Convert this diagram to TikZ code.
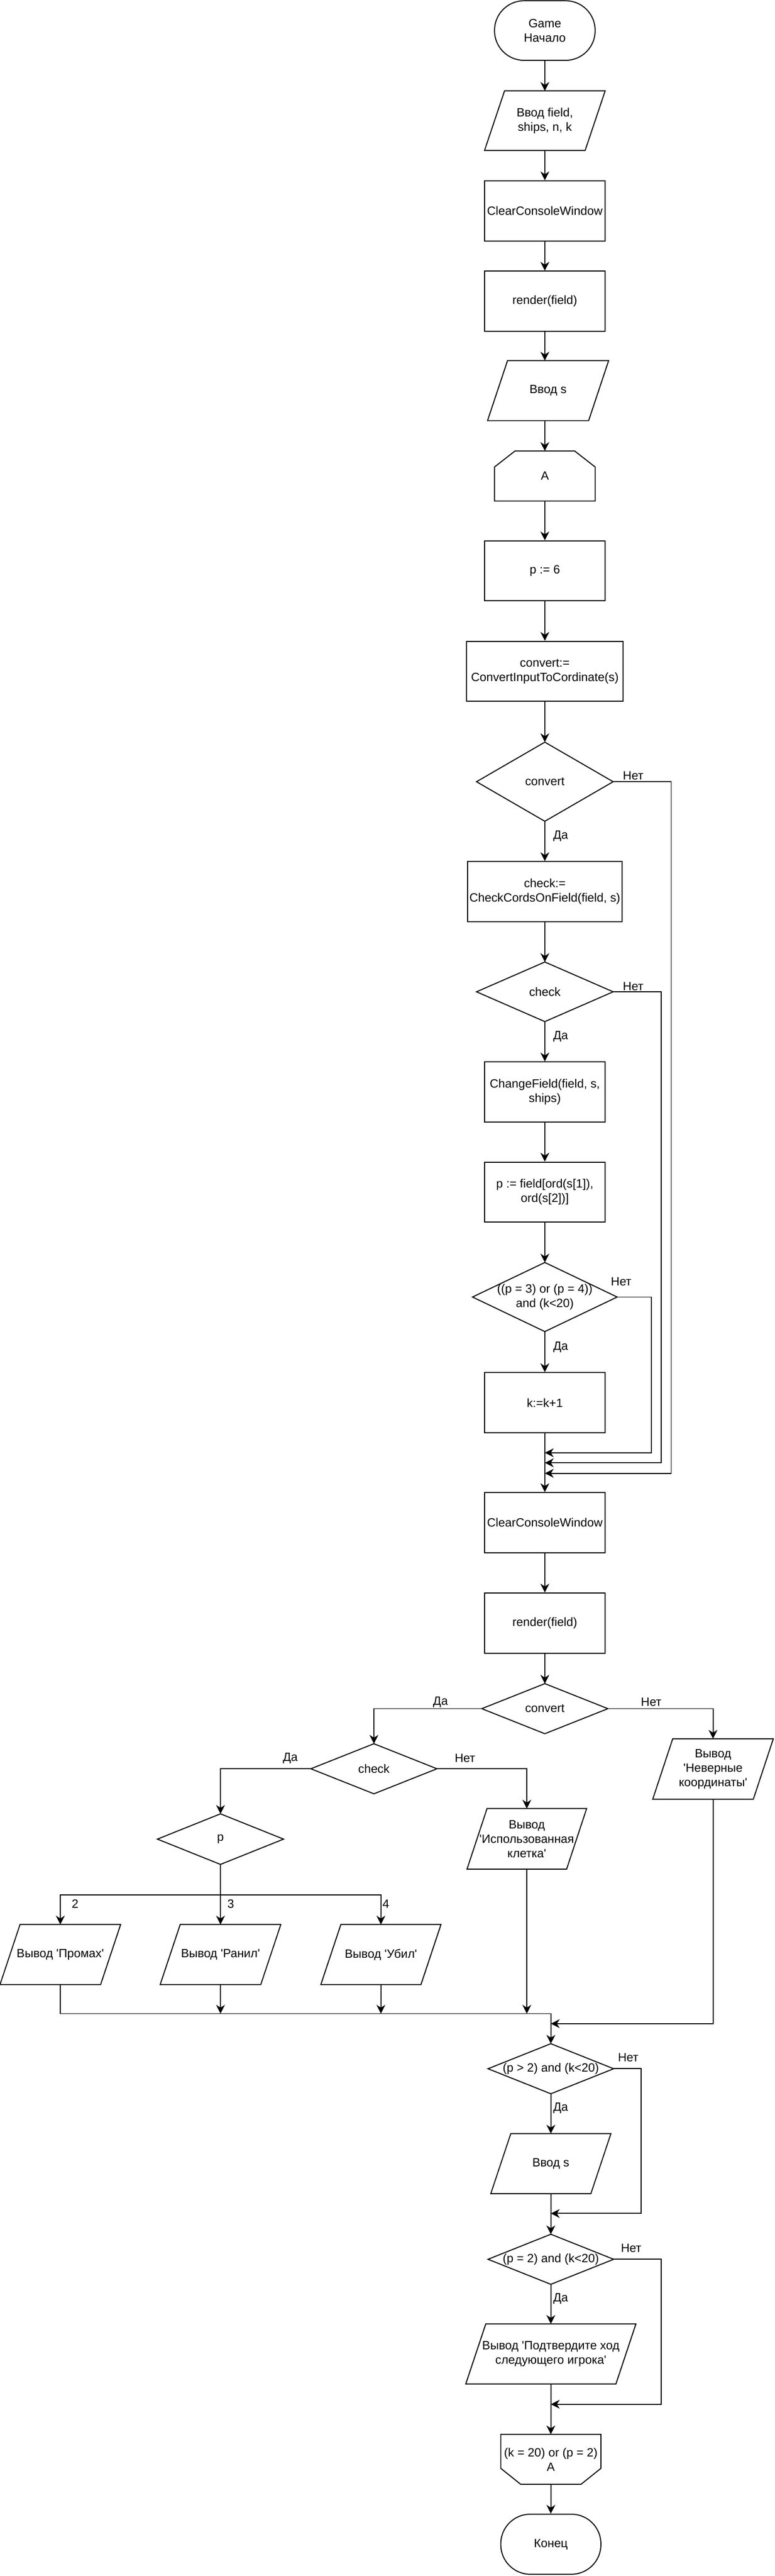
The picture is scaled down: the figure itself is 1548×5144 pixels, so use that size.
\documentclass[tikz,border=0pt]{standalone}
\usepackage{fontspec}
\setmainfont{Liberation Sans}
\usetikzlibrary{arrows.meta}
\newcommand\myq{\textquotesingle}
\newcommand\shpdiam[1]{\draw[shp] (#1.north) -- (#1.east) -- (#1.south) -- (#1.west) -- cycle;}
\newcommand\shppara[1]{\draw[shp] ([xshift=20pt]#1.north west) -- (#1.north east) -- ([xshift=-20pt]#1.south east) -- (#1.south west) -- cycle;}
\newcommand\shplooptop[1]{\draw[shp] ([xshift=20.5pt]#1.north west) -- ([xshift=-20.5pt]#1.north east) -- ([yshift=-16pt]#1.north east) -- (#1.south east) -- (#1.south west) -- ([yshift=-16pt]#1.north west) -- cycle;}
\newcommand\shploopbot[1]{\draw[shp] (#1.north west) -- (#1.north east) -- ([yshift=16pt]#1.south east) -- ([xshift=-20pt]#1.south east) -- ([xshift=20pt]#1.south west) -- ([yshift=16pt]#1.south west) -- cycle;}
\tikzset{
  shp/.style={line width=1pt, line join=miter},
  base/.style={inner sep=0pt, align=center, text=black},
  proc/.style={base, draw, line width=1pt},
  term/.style={base, draw, line width=1pt, rounded corners=29.5pt},
  blank/.style={base, outer sep=0pt},
  sz/.style 2 args={minimum width=#1*0.5pt, minimum height=#2*0.5pt},
  arr/.style={line width=1pt, -{Stealth[length=8.8pt, width=8.8pt, inset=2.8pt]}},
  ln/.style={line width=1pt},
  lbl/.style={inner sep=0pt},
}
\begin{document}
\begin{tikzpicture}[x=0.5pt,y=-0.5pt,font=\fontsize{12}{14.4}\selectfont]
\useasboundingbox (0,0) rectangle (1548,5144);
\fill[white] (0,0) rectangle (1548,5144);
% nodes
\node[term, sz={201}{119}] (start) at (1088.5,61) {Game\\Начало};
\node[blank, sz={241}{119}] (in1) at (1088.5,241) {Ввод field,\\ships, n, k};
\node[proc, sz={241}{120}] (clr1) at (1088.5,421) {ClearConsoleWindow};
\node[proc, sz={241}{120}] (ren1) at (1088.5,601.5) {render(field)};
\node[blank, sz={242}{120}] (ins1) at (1095,780) {Ввод s};
\node[blank, sz={201}{100}] (lpA) at (1088.5,950.5) {A};
\node[proc, sz={241}{120}] (p6) at (1088.5,1140) {p := 6};
\node[proc, sz={313}{120}] (conv) at (1088.5,1340.5) {convert:=\\ConvertInputToCordinate(s)};
\node[blank, sz={273}{158}] (convd) at (1088.5,1561) {convert};
\node[proc, sz={309}{120}] (chk) at (1088.5,1780.5) {check:=\\CheckCordsOnField(field, s)};
\node[blank, sz={273}{119}] (chkd) at (1088.5,1980.5) {check};
\node[proc, sz={241}{120}] (chg) at (1088.5,2180.5) {ChangeField(field, s,\\ships)};
\node[proc, sz={241}{120}] (pf) at (1088.5,2380.5) {p := field[ord(s[1]),\\ord(s[2])]};
\node[blank, sz={289}{138}] (pd) at (1088.5,2590) {((p = 3) or (p = 4))\\and (k<20)};
\node[proc, sz={241}{120}] (kk) at (1088.5,2801) {k:=k+1};
\node[proc, sz={241}{120}] (clr2) at (1088.5,3040.5) {ClearConsoleWindow};
\node[proc, sz={241}{120}] (ren2) at (1088.5,3241) {render(field)};
\node[blank, sz={252}{100}] (convd2) at (1088.5,3412) {convert};
\node[blank, sz={252}{100}] (chkd2) at (747,3532) {check};
\node[blank, sz={252}{101}] (pdd) at (440.5,3672.5) {p};
\node[blank, sz={241}{120}] (prom) at (120.5,3903) {Вывод \myq Промах\myq};
\node[blank, sz={241}{120}] (ran) at (440.5,3903) {Вывод \myq Ранил\myq};
\node[blank, sz={240}{120}] (ubil) at (761,3903) {Вывод \myq Убил\myq};
\node[blank, sz={239}{121}] (isp) at (1052.5,3672) {Вывод\\\myq Использованная\\клетка\myq};
\node[blank, sz={241}{121}] (nev) at (1424.5,3532.5) {Вывод\\\myq Неверные\\координаты\myq};
\node[blank, sz={251}{100}] (d3) at (1100.5,4131) {(p > 2) and (k<20)};
\node[blank, sz={240}{120}] (ins2) at (1100.5,4320.5) {Ввод s};
\node[blank, sz={251}{100}] (d4) at (1100.5,4511.5) {(p = 2) and (k<20)};
\node[blank, sz={340}{120}] (outp) at (1100.5,4700.5) {Вывод \myq Подтвердите ход\\следующего игрока\myq};
\node[blank, sz={200}{100}] (lpB) at (1100.5,4911) {(k = 20) or (p = 2)\\A};
\node[term, sz={200}{120}] (fin) at (1100.5,5080.5) {Конец};
% outlines
\shppara{in1}\shppara{ins1}\shppara{prom}\shppara{ran}\shppara{ubil}
\shppara{isp}\shppara{nev}\shppara{ins2}\shppara{outp}
\shpdiam{convd}\shpdiam{chkd}\shpdiam{pd}\shpdiam{convd2}\shpdiam{chkd2}
\shpdiam{pdd}\shpdiam{d3}\shpdiam{d4}
\shplooptop{lpA}\shploopbot{lpB}
% connectors, upper column
\draw[arr] (start.south) -- (in1.north);
\draw[arr] (in1.south) -- (clr1.north);
\draw[arr] (clr1.south) -- (ren1.north);
\draw[arr] (ren1.south) -- (ren1.south |- ins1.north);
\draw[arr] (lpA.north |- ins1.south) -- (lpA.north);
\draw[arr] (lpA.south) -- (p6.north);
\draw[arr] (p6.south) -- (conv.north);
\draw[arr] (conv.south) -- (convd.north);
\draw[arr] (convd.south) -- (chk.north);
\draw[arr] (chk.south) -- (chkd.north);
\draw[arr] (chkd.south) -- (chg.north);
\draw[arr] (chg.south) -- (pf.north);
\draw[arr] (pf.south) -- (pd.north);
\draw[arr] (pd.south) -- (kk.north);
\draw[arr] (kk.south) -- (clr2.north);
\coordinate (j1) at (1088.5,2901);
\coordinate (j2) at (1088.5,2921);
\coordinate (j3) at (1088.5,2942);
\coordinate (r1) at (1301,2901);
\coordinate (r2) at (1321,2921);
\coordinate (r3) at (1341,2942);
\draw[arr] (pd.east) -| (r1) -- (j1);
\draw[arr] (chkd.east) -| (r2) -- (j2);
\draw[arr] (convd.east) -| (r3) -- (j3);
% lower part
\draw[arr] (clr2.south) -- (ren2.north);
\draw[arr] (ren2.south) -- (convd2.north);
\draw[arr] (convd2.west) -| (chkd2.north);
\draw[arr] (convd2.east) -| (nev.north);
\draw[arr] (chkd2.west) -| (pdd.north);
\draw[arr] (chkd2.east) -| (isp.north);
\coordinate (pb) at (440.5,3784);
\draw[ln] (pdd.south) -- (pb);
\draw[arr] (pb) -| (prom.north);
\draw[arr] (pb) -- (ran.north);
\draw[arr] (pb) -| (ubil.north);
\coordinate (m0) at (120.5,4021);
\coordinate (m1) at (1100.5,4021);
\coordinate (m2) at (1100.5,4041);
\draw[arr] (prom.south) -- (m0) -- (m1) -- (d3.north);
\draw[arr] (ran.south) -- (ran.south |- m0);
\draw[arr] (ubil.south) -- (ubil.south |- m0);
\draw[arr] (isp.south) -- (isp.south |- m0);
\draw[arr] (nev.south) |- (m2);
\draw[arr] (d3.south) -- (ins2.north);
\coordinate (q1) at (1281,4420);
\coordinate (k1) at (1100.5,4420);
\draw[arr] (d3.east) -| (q1) -- (k1);
\draw[arr] (ins2.south) -- (d4.north);
\coordinate (q2) at (1321,4801);
\coordinate (k2) at (1100.5,4801);
\draw[arr] (d4.east) -| (q2) -- (k2);
\draw[arr] (d4.south) -- (outp.north);
\draw[arr] (outp.south) -- (lpB.north);
\draw[arr] (lpB.south) -- (fin.north);
% labels
\node[lbl] (l1) at (1120,1670) {Да};
\node[lbl] (l2) at (1265,1549) {Нет};
\node[lbl] (l3) at (1120,2070) {Да};
\node[lbl] (l4) at (1265,1970) {Нет};
\node[lbl] (l5) at (1120,2690) {Да};
\node[lbl] (l6) at (1241,2559) {Нет};
\node[lbl] (l7) at (880,3399) {Да};
\node[lbl] (l8) at (1301,3399) {Нет};
\node[lbl] (l9) at (580,3511) {Да};
\node[lbl] (l10) at (929,3511) {Нет};
\node[lbl] (l11) at (150,3802) {2};
\node[lbl] (l12) at (461,3802) {3};
\node[lbl] (l13) at (771,3802) {4};
\node[lbl] (l14) at (1120,4210) {Да};
\node[lbl] (l15) at (1255,4109) {Нет};
\node[lbl] (l16) at (1120,4590) {Да};
\node[lbl] (l17) at (1261,4489) {Нет};
\end{tikzpicture}
\end{document}
